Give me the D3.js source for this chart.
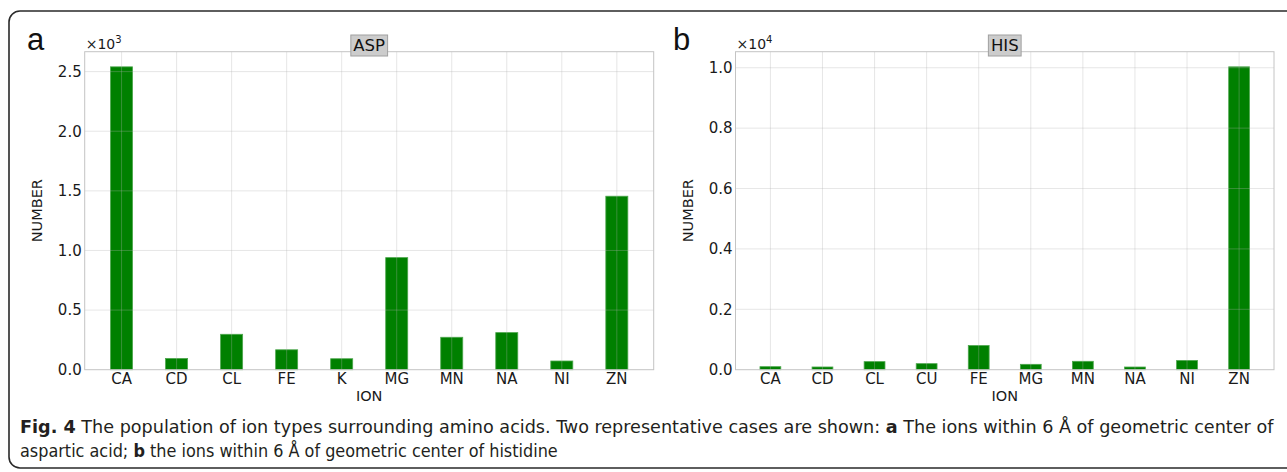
<!DOCTYPE html>
<html>
<head>
<meta charset="utf-8">
<script src="https://cdn.jsdelivr.net/npm/d3@7"></script>
<style>
  html, body { margin: 0; padding: 0; background: #fff; }
  svg { display: block; }
</style>
</head>
<body>
<svg id="fig" width="1287" height="472"></svg>
<script>
// Ion counts around aspartic acid (ASP)
const aspIons = ["CA", "CD", "CL", "FE", "K", "MG", "MN", "NA", "NI", "ZN"];
const aspCounts = [2540, 94, 297, 167, 92, 940, 272, 311, 73, 1455];
const aspTicks = [0, 500, 1000, 1500, 2000, 2500];

// Ion counts around histidine (HIS)
const hisIons = ["CA", "CD", "CL", "CU", "FE", "MG", "MN", "NA", "NI", "ZN"];
const hisCounts = [100, 90, 267, 200, 800, 178, 278, 89, 305, 10030];
const hisTicks = [0, 2000, 4000, 6000, 8000, 10000];

const svg = d3.select("#fig");
const FONT = "'DejaVu Sans', sans-serif";

// outer rounded frame of the figure
svg.append("rect")
  .attr("x", 9).attr("y", 11)
  .attr("width", 1320).attr("height", 457)
  .attr("rx", 11).attr("ry", 11)
  .attr("fill", "none")
  .attr("stroke", "#2a2a2a")
  .attr("stroke-width", 1.6);

function panel(opts) {
  const { left, right, top, bottom, ions, counts, ticks, scale, exp, title, letter, letterX } = opts;
  const g = svg.append("g");

  const x = d3.scaleBand()
    .domain(ions)
    .range([left, right])
    .paddingInner(0.6)
    .paddingOuter(0.47);

  const y = d3.scaleLinear()
    .domain([0, d3.max(counts) * 1.05])
    .range([bottom, top]);

  // bars
  g.selectAll("rect.bar")
    .data(ions.map((k, i) => ({ k, v: counts[i] })))
    .join("rect")
    .attr("class", "bar")
    .attr("x", d => x(d.k))
    .attr("width", x.bandwidth())
    .attr("y", d => y(d.v))
    .attr("height", d => y(0) - y(d.v))
    .attr("fill", "#008000")
    .attr("stroke", "#4da64d")
    .attr("stroke-width", 0.8);

  // grid drawn over the bars
  const grid = g.append("g")
    .attr("stroke", "rgba(176,176,176,0.32)")
    .attr("stroke-width", 1);
  grid.selectAll("line.v")
    .data(ions)
    .join("line")
    .attr("class", "v")
    .attr("x1", d => x(d) + x.bandwidth() / 2)
    .attr("x2", d => x(d) + x.bandwidth() / 2)
    .attr("y1", top).attr("y2", bottom);
  grid.selectAll("line.h")
    .data(ticks.filter(t => t > 0))
    .join("line")
    .attr("class", "h")
    .attr("x1", left).attr("x2", right)
    .attr("y1", d => y(d)).attr("y2", d => y(d));

  // axes frame
  g.append("rect")
    .attr("x", left).attr("y", top)
    .attr("width", right - left).attr("height", bottom - top)
    .attr("fill", "none")
    .attr("stroke", "#c4c4c4")
    .attr("stroke-width", 1);

  // y axis tick labels
  const yAxis = d3.axisLeft(y)
    .tickValues(ticks)
    .tickSize(0)
    .tickPadding(3)
    .tickFormat(d => (d / scale).toFixed(1));
  const ya = g.append("g").attr("transform", `translate(${left},0)`).call(yAxis);
  ya.select(".domain").remove();
  ya.selectAll("text")
    .attr("font-family", FONT).attr("font-size", 15).attr("fill", "#1a1a1a");

  // x axis tick labels
  const xAxis = d3.axisBottom(x).tickSize(0).tickPadding(4);
  const xa = g.append("g").attr("transform", `translate(0,${bottom})`).call(xAxis);
  xa.select(".domain").remove();
  xa.selectAll("text")
    .attr("font-family", FONT).attr("font-size", 15).attr("fill", "#1a1a1a");

  // axis titles
  g.append("text")
    .attr("x", (left + right) / 2).attr("y", 401)
    .attr("text-anchor", "middle")
    .attr("font-family", FONT).attr("font-size", 14.5).attr("fill", "#1a1a1a")
    .text("ION");
  g.append("text")
    .attr("transform", `translate(${left - 43},${(top + bottom) / 2}) rotate(-90)`)
    .attr("text-anchor", "middle")
    .attr("font-family", FONT).attr("font-size", 14.5).attr("fill", "#1a1a1a")
    .text("NUMBER");

  // offset multiplier
  const off = g.append("text")
    .attr("x", left + 1).attr("y", top - 3)
    .attr("font-family", FONT).attr("font-size", 14).attr("fill", "#1a1a1a");
  off.append("tspan").text("×10");
  off.append("tspan").attr("font-size", 10).attr("dy", -6).text(exp);

  // boxed title
  const box = g.append("rect");
  const tt = g.append("text")
    .attr("x", (left + right) / 2).attr("y", 51)
    .attr("text-anchor", "middle")
    .attr("font-family", FONT).attr("font-size", 16.5).attr("fill", "#111")
    .text(title);
  const bb = tt.node().getBBox();
  box.attr("x", bb.x - 2.5).attr("y", 35)
    .attr("width", bb.width + 5).attr("height", 21)
    .attr("fill", "#cccccc")
    .attr("stroke", "#a0a0a0")
    .attr("stroke-width", 1);

  // panel letter
  g.append("text")
    .attr("x", letterX).attr("y", 50)
    .attr("font-family", "'Liberation Sans', Arial, sans-serif")
    .attr("font-size", 31).attr("fill", "#111")
    .text(letter);
}

panel({
  left: 84.7, right: 653.7, top: 51.7, bottom: 369.7,
  ions: aspIons, counts: aspCounts, ticks: aspTicks,
  scale: 1000, exp: "3", title: "ASP", letter: "a", letterX: 27
});

panel({
  left: 735.5, right: 1274, top: 51.7, bottom: 369.7,
  ions: hisIons, counts: hisCounts, ticks: hisTicks,
  scale: 10000, exp: "4", title: "HIS", letter: "b", letterX: 673
});

// figure caption, set in a condensed face and fitted to the line width
const CAP_FONT = "'DejaVu Sans Condensed', 'Liberation Sans Narrow', 'Liberation Sans', sans-serif";
const cap = svg.append("g").attr("fill", "#231f20");

function captionLine(parts, x, y, width) {
  const t = cap.append("text")
    .attr("x", 0).attr("y", 0)
    .attr("font-family", CAP_FONT).attr("font-size", 18);
  parts.forEach(p => {
    t.append("tspan").attr("font-weight", p[1] ? "bold" : "normal").text(p[0]);
  });
  const w = t.node().getBBox().width;
  t.attr("transform", `translate(${x},${y}) scale(${width / w},1)`);
  return t;
}

captionLine([
  ["Fig. 4", true],
  [" The population of ion types surrounding amino acids. Two representative cases are shown: ", false],
  ["a", true],
  [" The ions within 6 Å of geometric center of", false]
], 20, 433, 1255);
captionLine([
  ["aspartic acid; ", false],
  ["b", true],
  [" the ions within 6 Å of geometric center of histidine", false]
], 20, 457, 538);
</script>
</body>
</html>
